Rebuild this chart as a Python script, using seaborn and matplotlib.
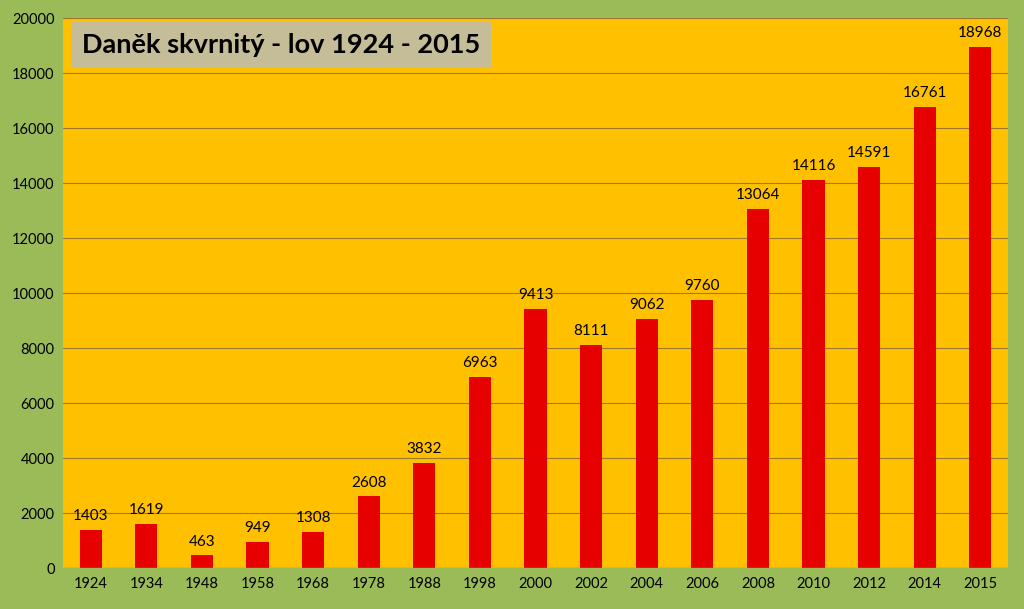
import matplotlib
matplotlib.use("Agg")
import matplotlib.pyplot as plt
import seaborn as sns
import pandas as pd

years = ["1924", "1934", "1948", "1958", "1968", "1978", "1988", "1998", "2000",
         "2002", "2004", "2006", "2008", "2010", "2012", "2014", "2015"]
catch = [1403, 1619, 463, 949, 1308, 2608, 3832, 6963, 9413,
         8111, 9062, 9760, 13064, 14116, 14591, 16761, 18968]
title = "Daněk skvrnitý - lov 1924 - 2015"

sns.set_theme(style="white")
plt.rcParams['font.family'] = ['Lato', 'DejaVu Sans']
plt.rcParams['text.color'] = 'black'

df = pd.DataFrame({"rok": years, "lov": catch})

fig = plt.figure(figsize=(10.24, 6.09), dpi=100)
fig.patch.set_facecolor("#9BBB59")
ax = fig.add_axes([0.0615, 0.067, 0.923, 0.903])
ax.set_facecolor("#FFC000")

sns.barplot(data=df, x="rok", y="lov", color="#E60000", width=0.4,
            saturation=1, linewidth=0, ax=ax, zorder=3)

ax.set_ylim(0, 20000)
ax.set_yticks(range(0, 20001, 2000))
ax.grid(axis="y", color="#A0782A", linewidth=0.8, zorder=0)
ax.set_axisbelow(True)
for s in ax.spines.values():
    s.set_visible(False)
ax.axhline(0, color="#A0A060", linewidth=1, zorder=4)
ax.tick_params(axis="both", labelsize=10.5, colors="black", length=0, pad=6)
ax.set_xlabel("")
ax.set_ylabel("")

for i, v in enumerate(catch):
    ax.text(i, v + 250, str(v), ha="center", va="bottom", fontsize=11,
            color="black")

ax.text(0.231, 0.951, title, transform=ax.transAxes, fontsize=19.5,
        fontweight="bold", va="center", ha="center", color="black",
        bbox=dict(boxstyle="square,pad=0.4", facecolor="#C4BD97",
                  edgecolor="none"))

fig.savefig("out.png", dpi=100, facecolor=fig.get_facecolor())
